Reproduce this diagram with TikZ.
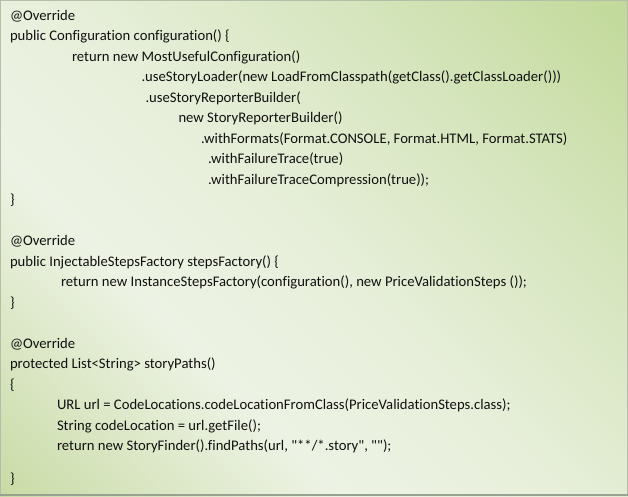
\documentclass[tikz,border=0pt]{standalone}
\usepackage{fontspec}
\newfontfamily\codefont{Carlito}[Ligatures=NoCommon]
\definecolor{gA}{HTML}{C9DBA5}
\definecolor{gB}{HTML}{D8E5C0}
\definecolor{gC}{HTML}{EDF3E4}
\definecolor{gD}{HTML}{E7EFDA}
\definecolor{gE}{HTML}{D6E5BD}
\definecolor{gF}{HTML}{C1D999}
\definecolor{txt}{HTML}{111111}
\definecolor{edge}{HTML}{B4BEA8}
\definecolor{edgedark}{HTML}{98A290}
\pgfdeclareverticalshading{bgshade}{100bp}{color(0bp)=(gA); color(14.6bp)=(gA); color(23.5bp)=(gB); color(35.9bp)=(gC); color(50bp)=(gD); color(67.7bp)=(gE); color(85.4bp)=(gF); color(100bp)=(gF)}
\tikzset{
  code/.style={anchor=base west, inner sep=0pt, outer sep=0pt, text=txt,
    font=\codefont\fontsize{14.67}{17}\selectfont}
}
\begin{document}
\begin{tikzpicture}[x=1pt,y=-1pt]
\useasboundingbox (0,0) rectangle (628,496);
\shade[shading=bgshade, shading angle=-45] (0,0) rectangle (628,496);
\draw[edge, line width=1pt] (0.5,0.5) rectangle (627.5,495.5);
\draw[edgedark, line width=1.5pt] (0,495) -- (628,495);
% block 1
\node[code] (l1)  at (10,20)    {@Override};
\node[code] (l2)  at (10,40.5)  {public Configuration configuration() \{};
\node[code] (l3)  at (72,61)    {return new MostUsefulConfiguration()};
\node[code] (l4)  at (141.5,81.5) {.useStoryLoader(new LoadFromClasspath(getClass().getClassLoader()))};
\node[code] (l5)  at (145.5,102)  {.useStoryReporterBuilder(};
\node[code] (l6)  at (178.5,122.5){new StoryReporterBuilder()};
\node[code] (l7)  at (201,143)    {.withFormats(Format.CONSOLE, Format.HTML, Format.STATS)};
\node[code] (l8)  at (208,163.5)  {.withFailureTrace(true)};
\node[code] (l9)  at (208,184)    {.withFailureTraceCompression(true));};
\node[code] (l10) at (10,204.5)   {\}};
% block 2
\node[code] (l11) at (10,245.5)   {@Override};
\node[code] (l12) at (10,266)     {public InjectableStepsFactory stepsFactory() \{};
\node[code] (l13) at (61,286.5)   {return new InstanceStepsFactory(configuration(), new PriceValidationSteps ());};
\node[code] (l14) at (10,307)     {\}};
% block 3
\node[code] (l15) at (10,348)     {@Override};
\node[code] (l16) at (10,368.5)   {protected List<String> storyPaths()};
\node[code] (l17) at (10,389)     {\{};
\node[code] (l18) at (57,409.5)   {URL url = CodeLocations.codeLocationFromClass(PriceValidationSteps.class);};
\node[code] (l19) at (57,430)     {String codeLocation = url.getFile();};
\node[code] (l20) at (57,450.5)   {return new StoryFinder().findPaths(url, "**/*.story", "");};
\node[code] (l21) at (10,483)     {\}};
\end{tikzpicture}
\end{document}
